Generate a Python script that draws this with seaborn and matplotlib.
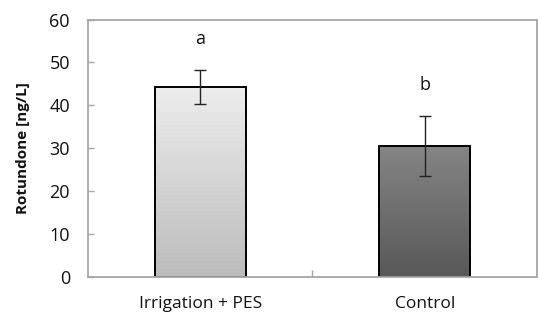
import matplotlib
matplotlib.use("Agg")
import matplotlib.pyplot as plt
import matplotlib.colors as mcolors
import numpy as np
import pandas as pd
import seaborn as sns

categories = ["Irrigation + PES", "Control"]
means = [44.3, 30.5]
errors = [3.9, 7.0]
letters = ["a", "b"]
yticks = [0, 10, 20, 30, 40, 50, 60]
grad_top = ["#ededed", "#858585"]
grad_bottom = ["#bcbcbc", "#585858"]

sns.set_theme(style="white")
plt.rcParams["font.family"] = ["Open Sans", "DejaVu Sans"]

df = pd.DataFrame({"group": categories, "value": means})

fig = plt.figure(figsize=(5.38, 3.21), dpi=100)
ax = fig.add_axes([0.1636, 0.137, 0.8344, 0.802])

sns.barplot(data=df, x="group", y="value", order=categories, ax=ax,
            width=0.405, color="white", edgecolor="black", linewidth=1.4,
            errorbar=None)

ax.set_ylim(0, 60)
ax.set_yticks(yticks)
ax.set_xlim(-0.5, 1.5)

for i, patch in enumerate(ax.patches):
    x0, y0 = patch.get_x(), patch.get_y()
    w, h = patch.get_width(), patch.get_height()
    cmap = mcolors.LinearSegmentedColormap.from_list(
        f"g{i}", [grad_bottom[i], grad_top[i]])
    grad = np.linspace(0, 1, 256).reshape(-1, 1)
    im = ax.imshow(grad, cmap=cmap, aspect="auto", origin="lower",
                   extent=[x0, x0 + w, y0, y0 + h], zorder=1.5)
    im.set_clip_path(patch)
    patch.set_facecolor("none")
    patch.set_zorder(2)
    cx = x0 + w / 2
    ax.errorbar(cx, means[i], yerr=errors[i], fmt="none", ecolor="#222222",
                elinewidth=1.0, capsize=4.5, capthick=1.0, zorder=3)
    ax.text(cx, means[i] + errors[i] + 5.2, letters[i], ha="center",
            va="bottom", fontsize=13, color="#111111")

ax.set_xlim(-0.5, 1.5)
ax.set_ylim(0, 60)
ax.set_aspect("auto")

for s in ax.spines.values():
    s.set_visible(True)
    s.set_color("#a6a6a6")
    s.set_linewidth(1.3)

ax.set_xlabel("")
ax.set_ylabel("Rotundone [ng/L]", fontsize=11, fontweight="bold",
              color="#111111", labelpad=14)
ax.tick_params(axis="y", direction="in", length=4, width=1, color="#a6a6a6",
               left=True, pad=13, labelsize=13, labelcolor="#111111")
ax.set_xticks([0, 1])
ax.set_xticks([0.5], minor=True)
ax.tick_params(axis="x", which="major", length=0, pad=14, labelsize=12.5,
               labelcolor="#111111")
ax.tick_params(axis="x", which="minor", direction="in", length=5, width=1,
               color="#a6a6a6", bottom=True)

fig.savefig("out.png", dpi=100)
